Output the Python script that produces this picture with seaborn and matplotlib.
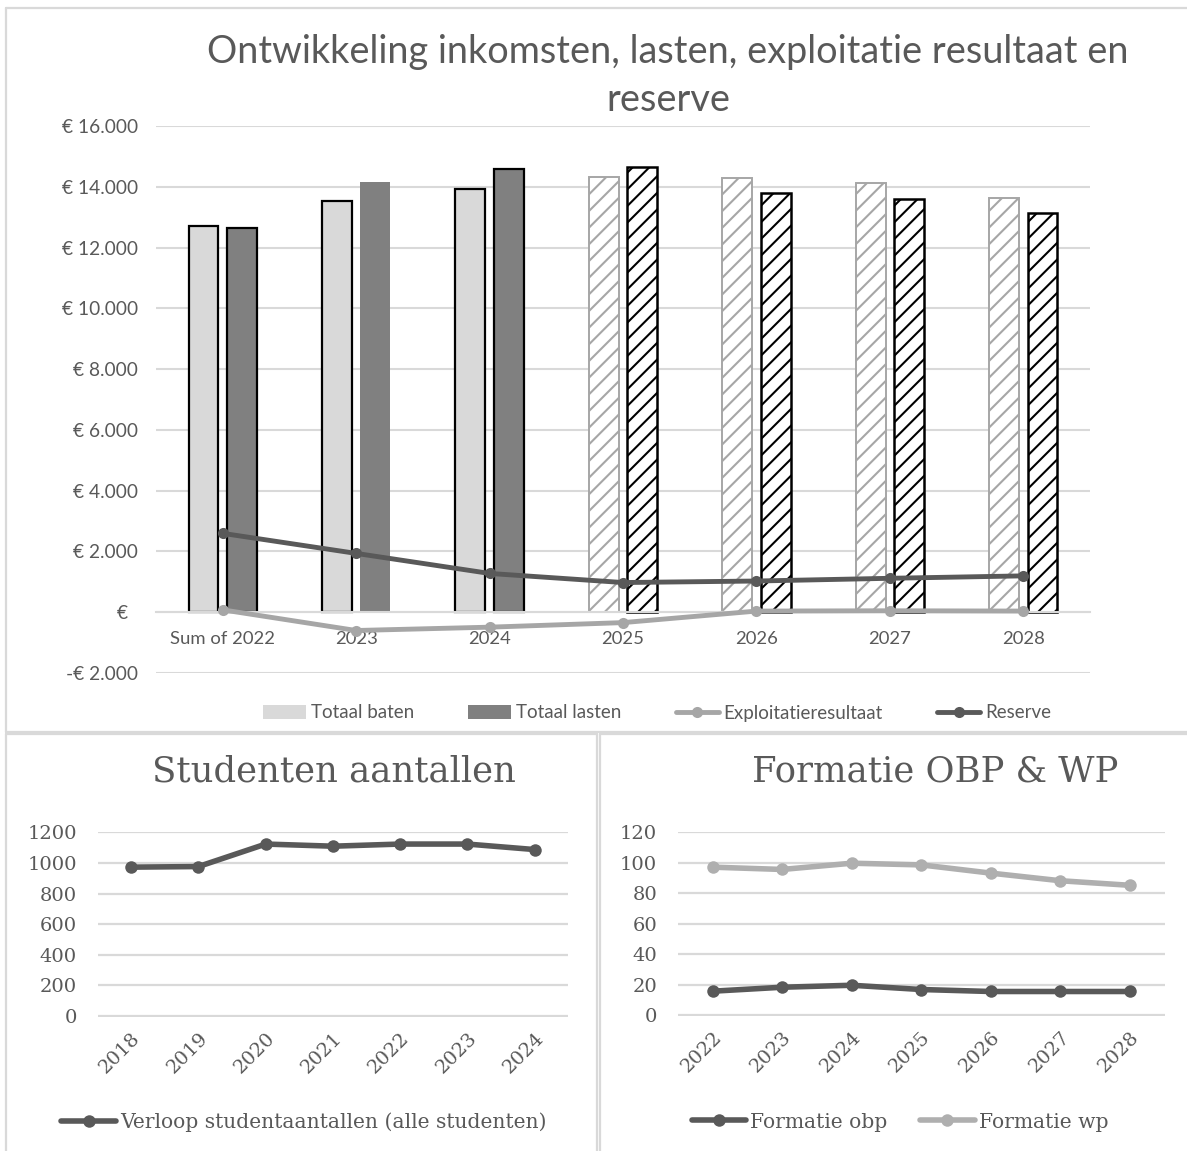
import numpy as np
import pandas as pd
import matplotlib
matplotlib.use("Agg")
import matplotlib.pyplot as plt
import seaborn as sns
from matplotlib.patches import Patch
from matplotlib.lines import Line2D
from matplotlib.ticker import FuncFormatter, MultipleLocator

# ---------------- data ----------------
fin_categories = ["Sum of 2022", "2023", "2024", "2025", "2026", "2027", "2028"]
totaal_baten = [12700, 13530, 13950, 14330, 14300, 14130, 13650]
totaal_lasten = [12650, 14150, 14580, 14670, 13800, 13590, 13160]
exploitatieresultaat = [70, -610, -500, -350, 30, 40, 30]
reserve = [2590, 1930, 1270, 970, 1020, 1110, 1190]
forecast_from = "2025"
lasten_no_edge = ["2023"]

student_years = ["2018", "2019", "2020", "2021", "2022", "2023", "2024"]
studentaantallen = [973, 977, 1124, 1110, 1124, 1124, 1088]

formatie_years = ["2022", "2023", "2024", "2025", "2026", "2027", "2028"]
formatie_obp = [15.8, 18.4, 19.7, 16.9, 15.6, 15.6, 15.6]
formatie_wp = [97.2, 95.7, 99.8, 98.7, 93.3, 88.3, 85.3]

# ---------------- style ----------------
W, H = 1187, 1151
TXT = "#595959"
GRID = "#d9d9d9"
DARK = "#595959"
LIGHT = "#a6a6a6"
WPCOL = "#afafaf"

sns.set_theme(style="white")
SANS = ["Lato", "DejaVu Sans"]
SERIF = ["DejaVu Serif"]
plt.rcParams["font.family"] = SANS
plt.rcParams["hatch.linewidth"] = 1.5


def fx(px):
    return px / W


def fy(py):
    return 1 - py / H


def axes_rect(left, top, right, bottom):
    return [fx(left), fy(bottom), fx(right) - fx(left), fy(top) - fy(bottom)]


fig = plt.figure(figsize=(W / 100, H / 100), dpi=100)

# panel borders
for (x0, y0, x1, y1) in [(6, 8, 6, 732), (6, 8, 1187, 8), (6, 732, 1187, 732),
                         (6, 734, 597, 734), (6, 734, 6, 1151), (597, 734, 597, 1151),
                         (600, 734, 1187, 734), (600, 734, 600, 1151)]:
    fig.add_artist(Line2D([fx(x0), fx(x1)], [fy(y0), fy(y1)], transform=fig.transFigure,
                          color=GRID, lw=1.6))

# ---------------- top chart ----------------
ax = fig.add_axes(axes_rect(156, 126, 1090, 673))
df = pd.DataFrame({
    "categorie": fin_categories * 2,
    "serie": ["Totaal baten"] * len(fin_categories) + ["Totaal lasten"] * len(fin_categories),
    "waarde": totaal_baten + totaal_lasten,
})
sns.barplot(data=df, x="categorie", y="waarde", hue="serie", order=fin_categories,
            hue_order=["Totaal baten", "Totaal lasten"], palette=["#d9d9d9", "#808080"],
            width=0.576, gap=0.222, legend=False, ax=ax, zorder=2, errorbar=None)

fc_idx = fin_categories.index(forecast_from)
for p in ax.patches:
    cx = p.get_x() + p.get_width() / 2
    i = int(round(cx))
    is_lasten = cx > i
    forecast = i >= fc_idx
    if not forecast:
        if is_lasten and fin_categories[i] in lasten_no_edge:
            p.set_edgecolor("none")
            p.set_linewidth(0)
        else:
            p.set_edgecolor("black")
            p.set_linewidth(1.6)
    else:
        p.set_facecolor("white")
        p.set_hatch("//")
        if is_lasten:
            p.set_edgecolor("black")
            p.set_linewidth(1.8)
            if hasattr(p, "set_hatchcolor"):
                p.set_hatchcolor("#333333")
        else:
            p.set_edgecolor("#a6a6a6")
            p.set_linewidth(1.4)
            if hasattr(p, "set_hatchcolor"):
                p.set_hatchcolor("#c8c8c8")

xpos = np.arange(len(fin_categories))
sns.lineplot(x=xpos, y=exploitatieresultaat, color=LIGHT, lw=3.5, marker="o", markersize=8,
             markeredgewidth=0, ax=ax, zorder=3)
sns.lineplot(x=xpos, y=reserve, color=DARK, lw=3.5, marker="o", markersize=8,
             markeredgewidth=0, ax=ax, zorder=4)

ax.set_xlim(-0.5, len(fin_categories) - 0.5)
ax.set_ylim(-2010, 16010)
ax.yaxis.set_major_locator(MultipleLocator(2000))


def euro(v, pos):
    if abs(v) < 1e-6:
        return "€  "
    s = f"{abs(v):,.0f}".replace(",", ".")
    return ("-€ " if v < 0 else "€ ") + s


ax.yaxis.set_major_formatter(FuncFormatter(euro))
ax.grid(axis="y", color=GRID, lw=1.5)
ax.grid(axis="x", visible=False)
ax.set_axisbelow(True)
for s in ["top", "left", "right"]:
    ax.spines[s].set_visible(False)
ax.spines["bottom"].set_position(("data", 0))
ax.spines["bottom"].set_color(GRID)
ax.spines["bottom"].set_linewidth(1.5)
ax.set_xticks(xpos, fin_categories)
ax.set_xticks(np.arange(-0.5, len(fin_categories), 1), minor=True)
ax.tick_params(axis="x", which="major", length=0, pad=14, labelsize=13.3, labelcolor=TXT)
ax.tick_params(axis="x", which="minor", length=6, width=1.5, color=GRID, direction="out")
ax.tick_params(axis="y", length=0, pad=13, labelsize=13.8, labelcolor=TXT)
ax.set_xlabel("")
ax.set_ylabel("")

fig.text(fx(668), fy(63), "Ontwikkeling inkomsten, lasten, exploitatie resultaat en",
         ha="center", va="baseline", fontsize=27.3, color=TXT, family=SANS)
fig.text(fx(668), fy(111), "reserve",
         ha="center", va="baseline", fontsize=27.3, color=TXT, family=SANS)

top_handles = [Patch(facecolor="#d9d9d9", edgecolor="none"),
               Patch(facecolor="#808080", edgecolor="none"),
               Line2D([], [], color=LIGHT, lw=3.5, marker="o", markersize=8, markeredgewidth=0),
               Line2D([], [], color=DARK, lw=3.5, marker="o", markersize=8, markeredgewidth=0)]
fig.legend(top_handles, ["Totaal baten", "Totaal lasten", "Exploitatieresultaat", "Reserve"],
           loc="center", bbox_to_anchor=(fx(657), fy(713)), ncol=4, frameon=False,
           fontsize=13.5, handlelength=2.3, handleheight=0.75, columnspacing=2.9,
           handletextpad=0.25, labelcolor=TXT)


# ---------------- bottom charts ----------------
SMALL_FS = 14.6


def style_small(a, ticks, labels, ymax, step):
    a.set_xlim(-0.5, len(labels) - 0.5)
    a.set_ylim(-ymax * 0.004, ymax * 1.004)
    a.yaxis.set_major_locator(MultipleLocator(step))
    a.grid(axis="y", color=GRID, lw=1.6)
    a.grid(axis="x", visible=False)
    a.set_axisbelow(True)
    for s in a.spines.values():
        s.set_visible(False)
    a.set_xticks(ticks, labels)
    for lab in a.get_xticklabels():
        lab.set_rotation(45)
        lab.set_ha("right")
        lab.set_va("top")
        lab.set_rotation_mode("anchor")
        lab.set_family(SERIF)
    for lab in a.get_yticklabels():
        lab.set_family(SERIF)
    a.tick_params(axis="x", length=0, pad=9, labelsize=SMALL_FS - 0.6, labelcolor=TXT)
    a.tick_params(axis="y", length=0, pad=15, labelsize=SMALL_FS - 0.6, labelcolor=TXT)
    a.set_xlabel("")
    a.set_ylabel("")


ax2 = fig.add_axes(axes_rect(97.6, 831.7, 568.3, 1016.7))
spos = np.arange(len(student_years))
sns.lineplot(x=spos, y=studentaantallen, color=DARK, lw=4, marker="o", markersize=9,
             markeredgewidth=0, ax=ax2)
style_small(ax2, spos, student_years, 1200, 200)
fig.text(fx(334), fy(771), "Studenten aantallen", ha="center", va="center",
         fontsize=25.5, color=TXT, family=SERIF)
fig.legend([Line2D([], [], color=DARK, lw=4, marker="o", markersize=9, markeredgewidth=0)],
           ["Verloop studentaantallen (alle studenten)"], loc="center",
           bbox_to_anchor=(fx(304), fy(1122)), frameon=False, handlelength=2.7,
           handletextpad=0.2, prop={"family": SERIF, "size": SMALL_FS}, labelcolor=TXT)

ax3 = fig.add_axes(axes_rect(677.9, 831.7, 1164.6, 1016))
fpos = np.arange(len(formatie_years))
sns.lineplot(x=fpos, y=formatie_obp, color=DARK, lw=4, marker="o", markersize=9,
             markeredgewidth=0, ax=ax3)
sns.lineplot(x=fpos, y=formatie_wp, color=WPCOL, lw=4, marker="o", markersize=9,
             markeredgewidth=0, ax=ax3)
style_small(ax3, fpos, formatie_years, 120, 20)
fig.text(fx(935), fy(771), "Formatie OBP & WP", ha="center", va="center",
         fontsize=25.5, color=TXT, family=SERIF)
fig.legend([Line2D([], [], color=DARK, lw=4, marker="o", markersize=9, markeredgewidth=0),
            Line2D([], [], color=WPCOL, lw=4, marker="o", markersize=9, markeredgewidth=0)],
           ["Formatie obp", "Formatie wp"], loc="center", ncol=2,
           bbox_to_anchor=(fx(900), fy(1122)), frameon=False, handlelength=2.7,
           handletextpad=0.2, columnspacing=1.6, prop={"family": SERIF, "size": SMALL_FS},
           labelcolor=TXT)

fig.savefig("out.png", dpi=100)
